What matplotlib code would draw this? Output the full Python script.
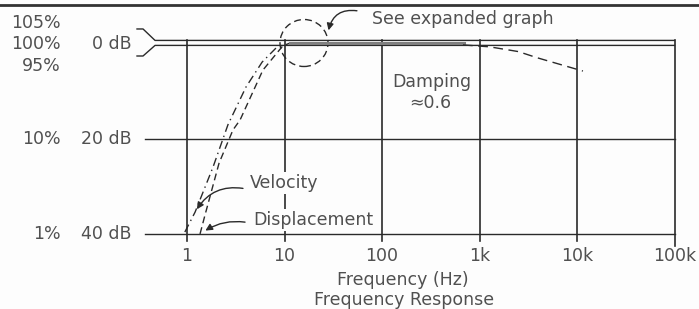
import numpy as np
import matplotlib.pyplot as plt
from matplotlib.patches import Ellipse

# decades on the frequency axis
decades = [1, 10, 100, 1000, 10000, 100000]
decade_labels = ["1", "10", "100", "1k", "10k", "100k"]

# level lines (dB) and their labels
level_db = [0, -20, -40]
db_labels = ["0 dB", "20 dB", "40 dB"]
pct_labels = ["100%", "10%", "1%"]

# curves
disp_f = [1.36, 1.53, 2.13, 2.96, 3.5, 6.0, 9.6, 11.4]
disp_db = [-40.0, -36.0, -25.1, -18.1, -16.0, -5.5, -0.4, 0.2]
vel_f = [0.95, 1.21, 1.85, 2.63, 4.03, 5.9, 8.6]
vel_db = [-39.6, -35.4, -25.9, -17.0, -9.05, -3.8, -0.4]
flat_f = [11.4, 700]
flat_db = [0.2, 0.2]
roll_f = [676, 1270, 2500, 3900, 11500]
roll_db = [-0.2, -0.6, -1.6, -2.9, -5.7]

ink = "#2a2a2a"
txt = "#505050"
fs = 12.5

fig = plt.figure(figsize=(6.99, 3.09), dpi=100)
fig.patch.set_facecolor("#fdfdfd")
ax = fig.add_axes([0, 0, 1, 1])
ax.set_xscale("log")
ax.set_xlim(10 ** -1.918, 10 ** 5.251)
ax.set_ylim(-55.8, 9.26)
ax.axis("off")

fmin, fmax = 0.37, 100000
band_top, band_bot = 0.75, -0.3

# band lines with bracket at the left
ax.plot([0.307, 0.354, 0.47, fmax], [3.16, 3.16, band_top, band_top], color=ink, lw=1.0)
ax.plot([0.307, 0.354, 0.47, fmax], [-2.53, -2.53, band_bot, band_bot], color=ink, lw=1.0)
ax.plot([fmin, fmax], [-20, -20], color=ink, lw=1.0)
ax.plot([fmin, fmax], [-40, -40], color=ink, lw=1.0)

# vertical decade lines with ticks below
for d in decades:
    low = -42.5 if d == decades[-1] else -41.5
    ax.plot([d, d], [band_top, low], color=ink, lw=1.2)

for d, lab in zip(decades, decade_labels):
    ax.text(d, -44.6, lab, ha="center", va="center", fontsize=fs, color=txt)

for lv, dl, pl in zip(level_db, db_labels, pct_labels):
    ax.text(0.27, lv, dl, ha="right", va="center", fontsize=fs, color=txt)
    ax.text(10 ** -1.3, lv, pl, ha="right", va="center", fontsize=fs, color=txt)
ax.text(10 ** -1.3, 4.4, "105%", ha="right", va="center", fontsize=fs, color=txt)
ax.text(10 ** -1.3, -4.6, "95%", ha="right", va="center", fontsize=fs, color=txt)

# response curves
ax.plot(disp_f, disp_db, color=ink, lw=1.0, ls=(0, (5, 3)))
ax.plot(vel_f, vel_db, color=ink, lw=1.0, ls=(0, (6, 3, 1, 3)))
ax.plot(flat_f, flat_db, color="#808080", lw=2.2)
ax.plot(roll_f, roll_db, color=ink, lw=1.0, ls=(0, (7, 4)))

# annotations
box = dict(facecolor="#fdfdfd", edgecolor="none", pad=1.5)
ax.text(4.4, -29.3, "Velocity", ha="left", va="center", fontsize=fs, color=txt, bbox=box)
ax.text(4.75, -37.1, "Displacement", ha="left", va="center", fontsize=fs, color=txt, bbox=box)
ax.text(325, -8.0, "Damping", ha="center", va="center", fontsize=fs, color=txt)
ax.text(310, -12.4, "\u22480.6", ha="center", va="center", fontsize=fs, color=txt)
ax.text(79, 5.3, "See expanded graph", ha="left", va="center", fontsize=fs, color=txt)
ax.text(165, -49.6, "Frequency (Hz)", ha="center", va="center", fontsize=fs, color=txt)
ax.text(170, -53.9, "Frequency Response", ha="center", va="center", fontsize=fs, color=txt)

ax.annotate("", xy=(1.22, -35.3), xytext=(4.0, -30.5),
            arrowprops=dict(arrowstyle="-|>", color=ink, lw=1.0,
                            connectionstyle="arc3,rad=0.35"))
ax.annotate("", xy=(1.46, -39.6), xytext=(4.2, -37.6),
            arrowprops=dict(arrowstyle="-|>", color=ink, lw=1.0,
                            connectionstyle="arc3,rad=0.2"))
ax.annotate("", xy=(27.9, 2.3), xytext=(59, 6.9),
            arrowprops=dict(arrowstyle="-|>", color=ink, lw=1.0,
                            connectionstyle="arc3,rad=0.5"))

ax.add_patch(Ellipse((304 / 699, 1 - 43 / 309), 48 / 699, 47 / 309,
                     transform=ax.transAxes, fill=False, ls=(0, (5, 3)),
                     color=ink, lw=1.0))

# scanned page edge at the top
ax.axhline(8.2, color="#333333", lw=2.0)

fig.savefig("out.png", dpi=100, facecolor=fig.get_facecolor())
